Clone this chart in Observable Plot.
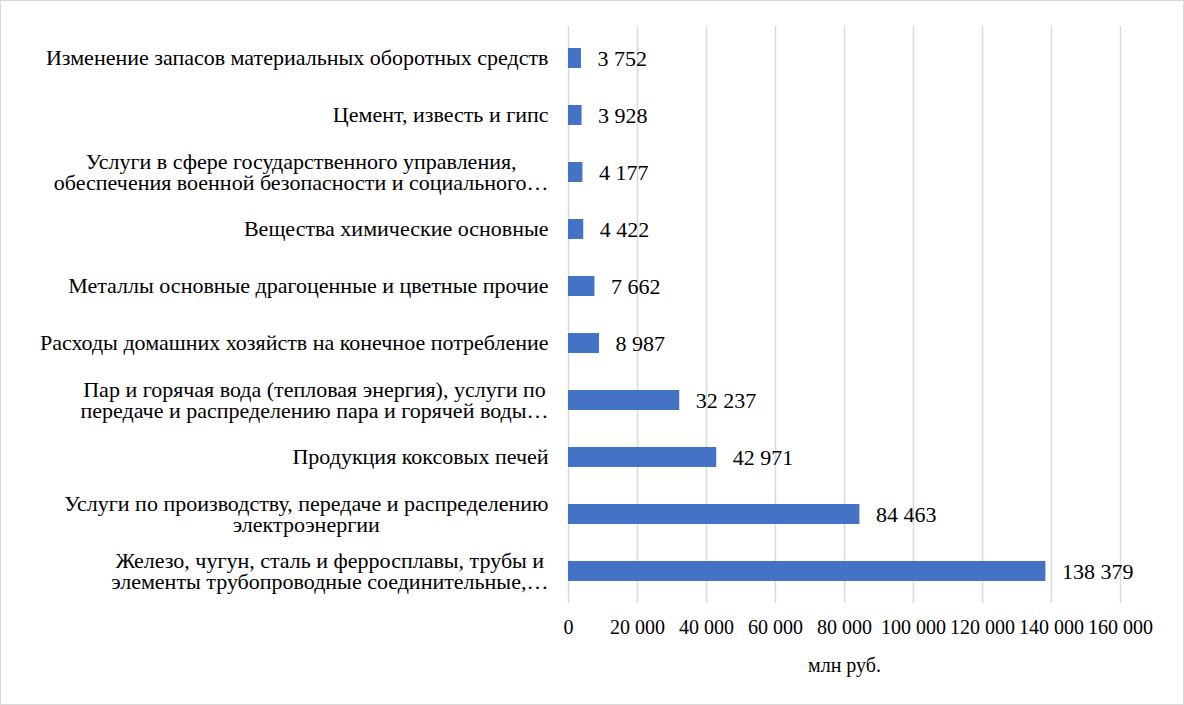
<!DOCTYPE html>
<html>
<head>
<meta charset="utf-8">
<script src="https://cdn.jsdelivr.net/npm/d3@7"></script>
<script src="https://cdn.jsdelivr.net/npm/@observablehq/plot@0.6"></script>
<style>
  html, body { margin: 0; padding: 0; background: #fff; }
  #wrap { position: relative; width: 1184px; height: 705px; }
  #border { position: absolute; left: 0; top: 0; width: 1184px; height: 705px; box-sizing: border-box; border: 1.5px solid #d9d9d9; pointer-events: none; }
  svg { display: block; }
</style>
</head>
<body>
<div id="wrap"><div id="border"></div></div>
<script>
const categories = [
  "Изменение запасов материальных оборотных средств",
  "Цемент, известь и гипс",
  "Услуги в сфере государственного управления,\nобеспечения военной безопасности и социального…",
  "Вещества химические основные",
  "Металлы основные драгоценные и цветные прочие",
  "Расходы домашних хозяйств на конечное потребление",
  "Пар и горячая вода (тепловая энергия), услуги по\nпередаче и распределению пара и горячей воды…",
  "Продукция коксовых печей",
  "Услуги по производству, передаче и распределению\nэлектроэнергии",
  "Железо, чугун, сталь и ферросплавы, трубы и\nэлементы трубопроводные соединительные,…"
];
const values = [3752, 3928, 4177, 4422, 7662, 8987, 32237, 42971, 84463, 138379];
const xTicks = [0, 20000, 40000, 60000, 80000, 100000, 120000, 140000, 160000];
const xLabel = "млн руб.";

const data = categories.map((c, i) => ({category: c, value: values[i]}));
const fmt = d3.formatLocale({thousands: "\u00a0", grouping: [3], decimal: ",", currency: ["", ""]}).format(",");

const chart = Plot.plot({
  width: 1184,
  height: 705,
  marginLeft: 568,
  marginRight: 64,
  marginTop: 26,
  marginBottom: 102,
  style: {fontFamily: "Liberation Serif", color: "#000", background: "#fff", overflow: "visible"},
  x: {domain: [0, 160000], ticks: xTicks},
  y: {domain: categories, padding: 0.655, paddingOuter: 0.3275},
  marks: [
    Plot.gridX(xTicks, {stroke: "#d9d9d9", strokeWidth: 1.5, strokeOpacity: 1}),
    Plot.barX(data, {x: "value", y: "category", fill: "#4472C4"}),
    Plot.text(data, {x: "value", y: "category", text: d => fmt(d.value), textAnchor: "start", dx: 16, fontSize: 22, fill: "#000"}),
    Plot.axisX({ticks: xTicks, tickFormat: fmt, tickSize: 0, tickPadding: 16, fontSize: 20, label: null}),
    Plot.axisY({tickSize: 0, tickPadding: 20, fontSize: 22, lineHeight: 0.96, label: null, textOverflow: null, lineWidth: 1000}),
    Plot.text([xLabel], {frameAnchor: "bottom", dy: 68, fontSize: 20, fill: "#000"})
  ]
});
document.getElementById("wrap").prepend(chart);

// center multi-line category labels within their block (right edge kept)
const yAxis = chart.querySelectorAll("g[aria-label='y-axis tick label'] text");
yAxis.forEach(t => {
  const tspans = t.querySelectorAll("tspan");
  if (tspans.length > 1) {
    const w = t.getBBox().width;
    t.setAttribute("text-anchor", "middle");
    tspans.forEach(s => s.setAttribute("x", -w / 2));
  }
});
</script>
</body>
</html>
